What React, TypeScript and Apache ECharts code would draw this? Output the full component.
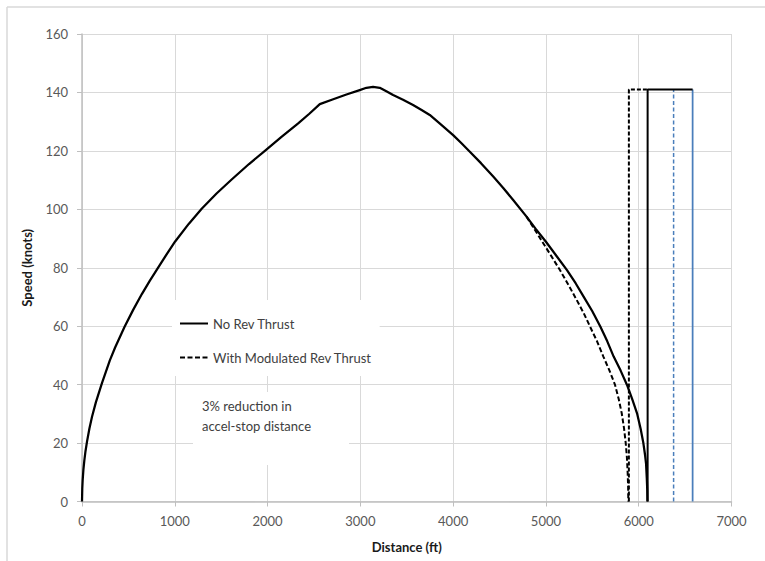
import React, { useEffect, useRef } from "react";
import * as echarts from "echarts";

// Distance (ft), Speed (knots)
const noRevThrust: [number, number][] = [
  [0, 0], [3, 4.5], [7, 7.2], [15, 10.8], [25, 14], [38, 17.3], [54, 20.5], [80, 25],
  [108, 29], [150, 34], [215, 40.5], [300, 48.3], [358, 52.8], [459, 59.8],
  [550, 65.5], [645, 71], [730, 75.5], [824, 80.2], [910, 84.5], [1004, 89],
  [1150, 95], [1290, 100.2], [1450, 105.4], [1613, 110.2], [1800, 115.5],
  [1971, 120], [2150, 124.8], [2330, 129.4], [2450, 132.7], [2563, 136],
  [2700, 137.6], [2850, 139.3], [2993, 140.8], [3065, 141.6], [3137, 141.9],
  [3209, 141.6], [3280, 140.4], [3353, 139.1], [3460, 137.5], [3568, 135.7],
  [3660, 134], [3748, 132.3], [3870, 129], [4000, 125.4], [4090, 122.6],
  [4180, 119.7], [4300, 115.8], [4432, 111.2], [4540, 107.3], [4647, 103.2],
  [4791, 97.5], [4890, 93.3], [5000, 88.9], [5110, 84.2], [5227, 79.2],
  [5320, 74.7], [5406, 70.1], [5500, 65.1], [5586, 59.9], [5660, 54.9],
  [5730, 49.6], [5805, 44.8], [5874, 39.9], [5930, 35], [5982, 30.2],
  [6020, 25], [6050, 20], [6068, 16], [6079, 13], [6087, 8], [6092, 4], [6094, 0],
];
const withModRevThrust: [number, number][] = [
  [4791, 97.5], [4880, 93], [4971, 88.4], [5060, 83.9], [5151, 79.2],
  [5240, 74.3], [5331, 69], [5405, 64.6], [5475, 59.9], [5550, 54.9],
  [5619, 49.6], [5685, 44.8], [5745, 39.9], [5785, 35], [5817, 30.2],
  [5842, 25], [5860, 20], [5873, 15], [5881, 9.7], [5886, 5], [5888, 0],
];
const stopDashedBlack: [number, number][] = [[5894, 0], [5894, 141], [6096, 141]];
const stopSolidBlack: [number, number][] = [[6096, 0], [6096, 141], [6581, 141]];
const stopSolidBlue: [number, number][] = [[6581, 0], [6581, 141]];
const stopDashedBlue: [number, number][] = [[6376, 0], [6376, 141]];

const legendNames = ["No Rev Thrust", "With Modulated Rev Thrust"];
const noteLines = ["3% reduction in", "accel-stop distance"];
const xAxisName = "Distance (ft)";
const yAxisName = "Speed (knots)";

const FONT = "Lato, 'Noto Sans', sans-serif";

export default function App() {
  const ref = useRef<HTMLDivElement>(null);
  useEffect(() => {
    document.body.style.margin = "0";
    const chart = echarts.init(ref.current!, null, { renderer: "svg" });
    const gridColor = "#d9d9d9";
    const axisColor = "#bfbfbf";
    chart.setOption({
      animation: false,
      backgroundColor: "#ffffff",
      textStyle: { fontFamily: FONT },
      grid: { left: 82, top: 34, right: 33.5, bottom: 59.5, containLabel: false },
      xAxis: {
        type: "value",
        min: 0,
        max: 7000,
        interval: 1000,
        name: xAxisName,
        nameLocation: "middle",
        nameGap: 39,
        nameTextStyle: { fontSize: 13, fontWeight: "bold", color: "#1a1a1a", fontFamily: FONT },
        axisLine: { show: true, lineStyle: { color: axisColor, width: 1.5 } },
        axisTick: { show: true, length: 5, lineStyle: { color: axisColor } },
        axisLabel: {
          margin: 13,
          fontSize: 13,
          color: "#595959",
          fontFamily: FONT,
          formatter: (v: number) => String(v),
        },
        splitLine: { show: true, lineStyle: { color: gridColor, width: 1 } },
      },
      yAxis: {
        type: "value",
        min: 0,
        max: 160,
        interval: 20,
        name: yAxisName,
        nameLocation: "middle",
        nameGap: 49,
        nameRotate: 90,
        nameTextStyle: { fontSize: 13, fontWeight: "bold", color: "#1a1a1a", fontFamily: FONT },
        axisLine: { show: true, lineStyle: { color: axisColor, width: 1.5 } },
        axisTick: { show: true, length: 5, lineStyle: { color: axisColor } },
        axisLabel: { margin: 14, fontSize: 13, color: "#595959", fontFamily: FONT },
        splitLine: { show: true, lineStyle: { color: gridColor, width: 1 } },
      },
      legend: {
        data: legendNames,
        orient: "vertical",
        left: 172,
        top: 300,
        padding: [17, 8, 12, 7],
        itemGap: 21,
        itemWidth: 28,
        itemHeight: 14,
        backgroundColor: "#ffffff",
        itemStyle: { opacity: 0 },
        textStyle: { fontSize: 13, color: "#404040", fontFamily: FONT },
      },
      graphic: [
        {
          type: "line",
          shape: { x1: 7, y1: 7, x2: 7, y2: 561 },
          style: { stroke: gridColor, lineWidth: 1.5 },
          z: 100,
        },
        {
          type: "line",
          shape: { x1: 7, y1: 7, x2: 765, y2: 7 },
          style: { stroke: gridColor, lineWidth: 1.5 },
          z: 100,
        },
        {
          type: "rect",
          shape: { x: 193, y: 392, width: 156, height: 73 },
          style: { fill: "#ffffff" },
          z: 100,
        },
        {
          type: "text",
          x: 202,
          y: 406,
          style: { text: noteLines[0], fontSize: 13, fill: "#404040", fontFamily: FONT, verticalAlign: "middle" },
          z: 101,
        },
        {
          type: "text",
          x: 202,
          y: 426,
          style: { text: noteLines[1], fontSize: 13, fill: "#404040", fontFamily: FONT, verticalAlign: "middle" },
          z: 101,
        },
      ],
      series: [
        {
          name: legendNames[0],
          type: "line",
          data: noRevThrust,
          symbol: "none",
          lineStyle: { color: "#000000", width: 2.25, join: "round" },
          itemStyle: { color: "#000000" },
          z: 5,
        },
        {
          name: legendNames[1],
          type: "line",
          data: withModRevThrust,
          symbol: "none",
          lineStyle: { color: "#000000", width: 2, type: [5, 2.5] },
          itemStyle: { color: "#000000" },
          z: 5,
        },
        {
          name: "Stop dashed",
          type: "line",
          data: stopDashedBlack,
          symbol: "none",
          lineStyle: { color: "#000000", width: 2, type: [4, 2] },
          z: 4,
        },
        {
          name: "Stop solid",
          type: "line",
          data: stopSolidBlack,
          symbol: "none",
          lineStyle: { color: "#000000", width: 2 },
          z: 5,
        },
        {
          name: "Stop solid blue",
          type: "line",
          data: stopSolidBlue,
          symbol: "none",
          lineStyle: { color: "#4a7ebb", width: 1.75 },
          z: 4,
        },
        {
          name: "Stop dashed blue",
          type: "line",
          data: stopDashedBlue,
          symbol: "none",
          lineStyle: { color: "#4a7ebb", width: 1.5, type: [4, 2.5] },
          z: 4,
        },
      ],
    });
    return () => chart.dispose();
  }, []);
  return (
    <div
      ref={ref}
      style={{ position: "absolute", left: 0, top: 0, width: 765, height: 561 }}
    />
  );
}
